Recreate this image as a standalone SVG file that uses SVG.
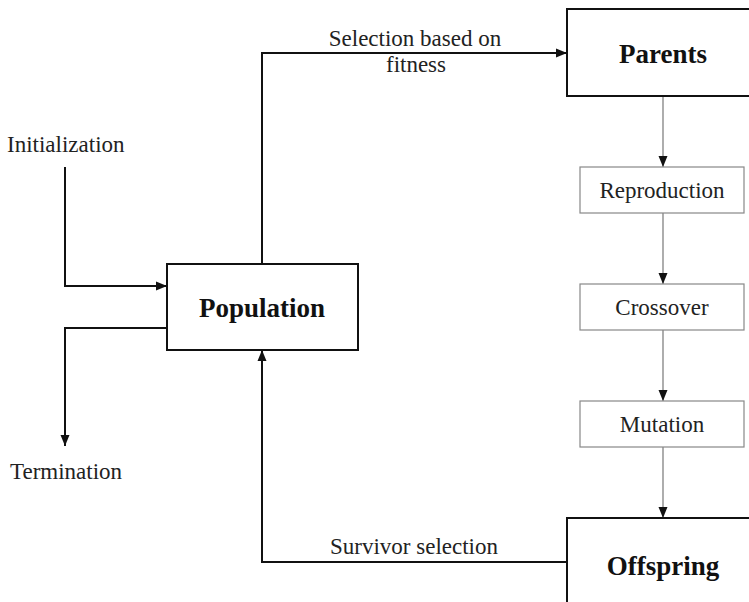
<svg xmlns="http://www.w3.org/2000/svg" width="749" height="602" viewBox="0 0 749 602">
<style>
.big{fill:#fff;stroke:#111;stroke-width:2}
.small{fill:#fff;stroke:#888;stroke-width:1.2}
.bt{font-family:"Liberation Serif",serif;font-weight:bold;font-size:27px;fill:#111;text-anchor:middle}
.rt{font-family:"Liberation Serif",serif;font-size:23px;fill:#222;text-anchor:middle}
.lt{font-family:"Liberation Serif",serif;font-size:23px;fill:#222}
.thick{fill:none;stroke:#111;stroke-width:2;marker-end:url(#ah)}
.thin{fill:none;stroke:#777;stroke-width:1.2;marker-end:url(#ah2)}
</style>
<defs>
<marker id="ah" markerUnits="userSpaceOnUse" markerWidth="12" markerHeight="10" refX="11" refY="5" orient="auto"><path d="M0,0.5 L11,5 L0,9.5 z" fill="#111"/></marker>
<marker id="ah2" markerUnits="userSpaceOnUse" markerWidth="12" markerHeight="10" refX="11" refY="5" orient="auto"><path d="M0,0.5 L11,5 L0,9.5 z" fill="#111"/></marker>
</defs>
<rect width="749" height="602" fill="#fff"/>
<g id="connectors">
<path class="thick" d="M65,167 V286 H167"/>
<path class="thick" d="M167,328 H65 V446"/>
<path class="thick" d="M262,264 V53 H567"/>
<path class="thick" d="M567,562 H262 V350"/>
<path class="thin" d="M663,96 V167"/>
<path class="thin" d="M663,213 V284"/>
<path class="thin" d="M663,330 V401"/>
<path class="thin" d="M663,447 V518"/>
<text class="rt" x="415" y="46">Selection based on</text>
<text class="rt" x="416" y="72">fitness</text>
<text class="rt" x="414" y="554">Survivor selection</text>
</g>
<g id="initialization"><text class="lt" x="7" y="152">Initialization</text></g>
<g id="termination"><text class="lt" x="10" y="479">Termination</text></g>
<g id="population">
<rect class="big" x="167" y="264" width="191" height="86"/>
<text class="bt" x="262" y="317">Population</text>
</g>
<g id="parents">
<rect class="big" x="567" y="9" width="200" height="87"/>
<text class="bt" x="663" y="63">Parents</text>
</g>
<g id="reproduction">
<rect class="small" x="580" y="167" width="164" height="46"/>
<text class="rt" x="662" y="198">Reproduction</text>
</g>
<g id="crossover">
<rect class="small" x="580" y="284" width="164" height="46"/>
<text class="rt" x="662" y="315">Crossover</text>
</g>
<g id="mutation">
<rect class="small" x="580" y="401" width="164" height="46"/>
<text class="rt" x="662" y="432">Mutation</text>
</g>
<g id="offspring">
<rect class="big" x="567" y="518" width="200" height="120"/>
<text class="bt" x="663" y="575">Offspring</text>
</g>
</svg>
